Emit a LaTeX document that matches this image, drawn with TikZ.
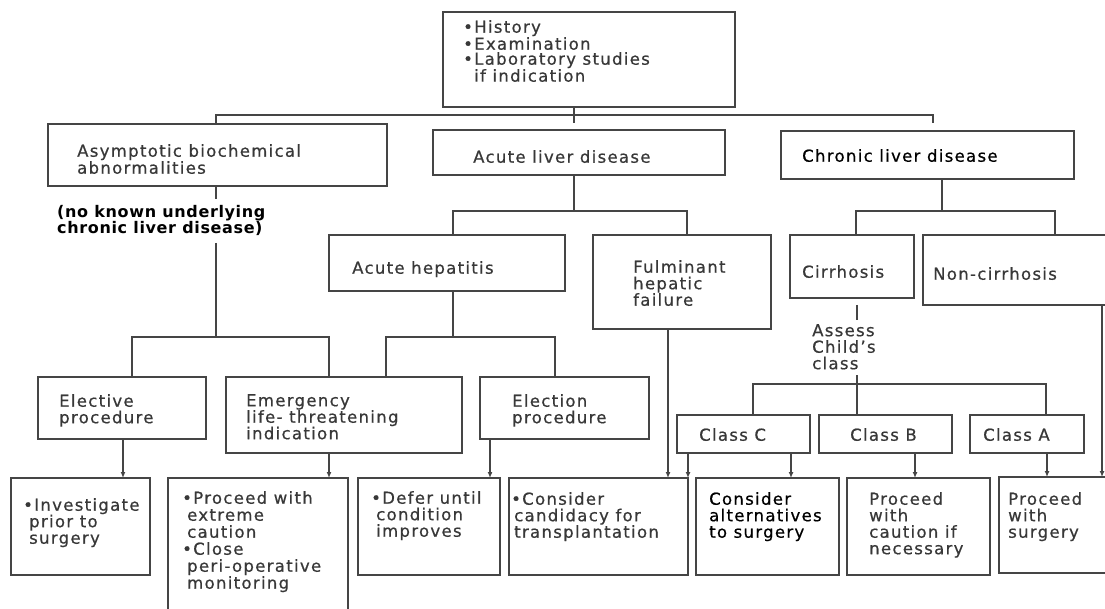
\documentclass[tikz,border=0pt]{standalone}
\usepackage{fontspec}
\setmainfont{DejaVu Sans}[LetterSpace=8, FakeBold=0.6]
\newfontfamily\notefont{DejaVu Sans}[LetterSpace=4]
\usetikzlibrary{arrows.meta,calc}

\definecolor{linegray}{HTML}{454545}
\definecolor{textgray}{HTML}{383838}

\tikzset{
  x=1pt, y=-1pt,
  box/.style={draw=linegray, line width=1.3pt, anchor=north west, inner sep=0pt, outer sep=0pt},
  txt/.style={anchor=north west, inner sep=0pt, align=left, text=textgray,
              font=\fontsize{16.5}{16.5}\selectfont},
  tight/.style={font=\fontsize{16.5}{15}\selectfont},
  dark/.style={text=black},
  conn/.style={draw=linegray, line width=1.2pt},
  arr/.style={conn, -{Latex[length=6pt,width=5pt]}},
}

% box from (x1,y1) to (x2,y2), y measured downwards
\newcommand{\mkbox}[5]{%
  \node[box, minimum width={(#4-#2)*1pt}, minimum height={(#5-#3)*1pt}] (#1) at (#2,#3) {};}

\begin{document}
\begin{tikzpicture}
\path[use as bounding box, clip] (0,0) rectangle (1105,609);
\fill[white] (0,0) rectangle (1105,609);

% ---- boxes ----
\mkbox{top}{443}{12}{735}{107}
\mkbox{asym}{48}{124}{387}{186}
\mkbox{acute}{433}{130}{725}{175}
\mkbox{chronic}{781}{131}{1074}{179}
\mkbox{hep}{329}{235}{565}{291}
\mkbox{fulm}{593}{235}{771}{329}
\mkbox{cirr}{790}{235}{914}{298}
\mkbox{noncirr}{923}{235}{1120}{305}
\mkbox{elective}{38}{377}{206}{439}
\mkbox{emerg}{226}{377}{462}{453}
\mkbox{election}{480}{377}{649}{439}
\mkbox{classc}{677}{415}{810}{453}
\mkbox{classb}{819}{415}{952}{453}
\mkbox{classa}{970}{415}{1084}{453}
\mkbox{invest}{11}{478}{150}{575}
\mkbox{extreme}{168}{478}{348}{625}
\mkbox{defer}{358}{478}{500}{575}
\mkbox{transpl}{509}{478}{688}{575}
\mkbox{altern}{696}{478}{839}{575}
\mkbox{caution}{847}{478}{990}{575}
\mkbox{surgery}{999}{477}{1120}{573}

% ---- texts ----
\node[txt, tight] (ttop) at (463,20)
  {•History\\•Examination\\•Laboratory studies\\\hspace{11pt}if indication};
\node[txt, tight] (tasym) at (77,144) {Asymptotic biochemical\\abnormalities};
\node[txt] (tacute) at (473,150) {Acute liver disease};
\node[txt, dark] (tchronic) at (802,149) {Chronic liver disease};
\node[txt, dark, font=\notefont\bfseries\fontsize{16}{14.5}\selectfont] (tnote) at (57,205)
  {(no known underlying\\chronic liver disease)};
\node[txt] (thep) at (352,261) {Acute hepatitis};
\node[txt] (tfulm) at (633,260) {Fulminant\\hepatic\\failure};
\node[txt] (tcirr) at (802,265) {Cirrhosis};
\node[txt] (tnon) at (933,267) {Non-cirrhosis};
\node[txt] (tassess) at (812,324) {Assess\\Child’s\\class};
\node[txt] (telective) at (59,394) {Elective\\procedure};
\node[txt] (temerg) at (246,394) {Emergency\\life- threatening\\indication};
\node[txt] (telection) at (512,394) {Election\\procedure};
\node[txt] (tclassc) at (699,428) {Class C};
\node[txt] (tclassb) at (850,428) {Class B};
\node[txt] (tclassa) at (983,428) {Class A};
\node[txt] (tinvest) at (23,498) {•Investigate\\\hspace{6pt}prior to\\\hspace{6pt}surgery};
\node[txt, font=\fontsize{16.5}{17}\selectfont] (textreme) at (182,491)
  {•Proceed with\\\hspace{5pt}extreme\\\hspace{5pt}caution\\•Close\\\hspace{5pt}peri-operative\\\hspace{5pt}monitoring};
\node[txt] (tdefer) at (371,491) {•Defer until\\\hspace{5pt}condition\\\hspace{5pt}improves};
\node[txt] (ttranspl) at (511,492) {•Consider\\\hspace{3pt}candidacy for\\\hspace{3pt}transplantation};
\node[txt, dark] (taltern) at (709,492) {Consider\\alternatives\\to surgery};
\node[txt] (tcaution) at (869,492) {Proceed\\with\\caution if\\necessary};
\node[txt] (tsurgery) at (1008,492) {Proceed\\with\\surgery};

% ---- junction points ----
\coordinate (j0) at (574,115);   \coordinate (j0b) at (574,123);
\coordinate (j0L) at (216,115);  \coordinate (j0R) at (933,115);  \coordinate (j0Rb) at (933,123);
\coordinate (ja1) at (216,199);  \coordinate (ja2) at (216,243);
\coordinate (jaL) at (132,337);  \coordinate (jaR) at (329,337);  \coordinate (ja3) at (216,337);
\coordinate (jb) at (574,211);   \coordinate (jbL) at (453,211);  \coordinate (jbR) at (687,211);
\coordinate (jc) at (453,337);   \coordinate (jcL) at (386,337);  \coordinate (jcR) at (555,337);
\coordinate (jd) at (942,211);   \coordinate (jdL) at (856,211);  \coordinate (jdR) at (1055,211);
\coordinate (je0) at (857,305);  \coordinate (je1) at (857,320);  \coordinate (je2) at (857,375);
\coordinate (jeL) at (753,384);  \coordinate (jeR) at (1046,384);

% ---- tree connectors ----
\draw[conn] (top.south -| j0) -- (j0b);
\draw[conn] (asym.north -| j0L) -- (j0L) -- (j0R) -- (j0Rb);
\draw[conn] (asym.south -| ja1) -- (ja1);
\draw[conn] (ja2) -- (ja3);
\draw[conn] (elective.north -| jaL) -- (jaL) -- (jaR) -- (emerg.north -| jaR);
\draw[conn] (acute.south -| jb) -- (jb);
\draw[conn] (hep.north -| jbL) -- (jbL) -- (jbR) -- (fulm.north -| jbR);
\draw[conn] (hep.south -| jc) -- (jc);
\draw[conn] (emerg.north -| jcL) -- (jcL) -- (jcR) -- (election.north -| jcR);
\draw[conn] (chronic.south -| jd) -- (jd);
\draw[conn] (cirr.north -| jdL) -- (jdL) -- (jdR) -- (noncirr.north -| jdR);
\draw[conn] (je0) -- (je1);
\draw[conn] (je2) -- (classb.north -| je2);
\draw[conn] (classc.north -| jeL) -- (jeL) -- (jeR) -- (classa.north -| jeR);

% ---- arrows into the outcome boxes ----
\coordinate (x1) at (123,0);  \coordinate (x2) at (329,0);  \coordinate (x3) at (490,0);
\coordinate (x4) at (668,0);  \coordinate (x5) at (688,0);  \coordinate (x6) at (791,0);
\coordinate (x7) at (915,0);  \coordinate (x8) at (1047,0); \coordinate (x9) at (1102,0);
\draw[arr] (elective.south -| x1) -- (invest.north -| x1);
\draw[arr] (emerg.south -| x2) -- (extreme.north -| x2);
\draw[arr] (election.south -| x3) -- (defer.north -| x3);
\draw[arr] (fulm.south -| x4) -- (transpl.north -| x4);
\draw[arr] (classc.south -| x5) -- (transpl.north -| x5);
\draw[arr] (classc.south -| x6) -- (altern.north -| x6);
\draw[arr] (classb.south -| x7) -- (caution.north -| x7);
\draw[arr] (classa.south -| x8) -- (surgery.north -| x8);
\draw[arr] (noncirr.south -| x9) -- (surgery.north -| x9);
\end{tikzpicture}
\end{document}
